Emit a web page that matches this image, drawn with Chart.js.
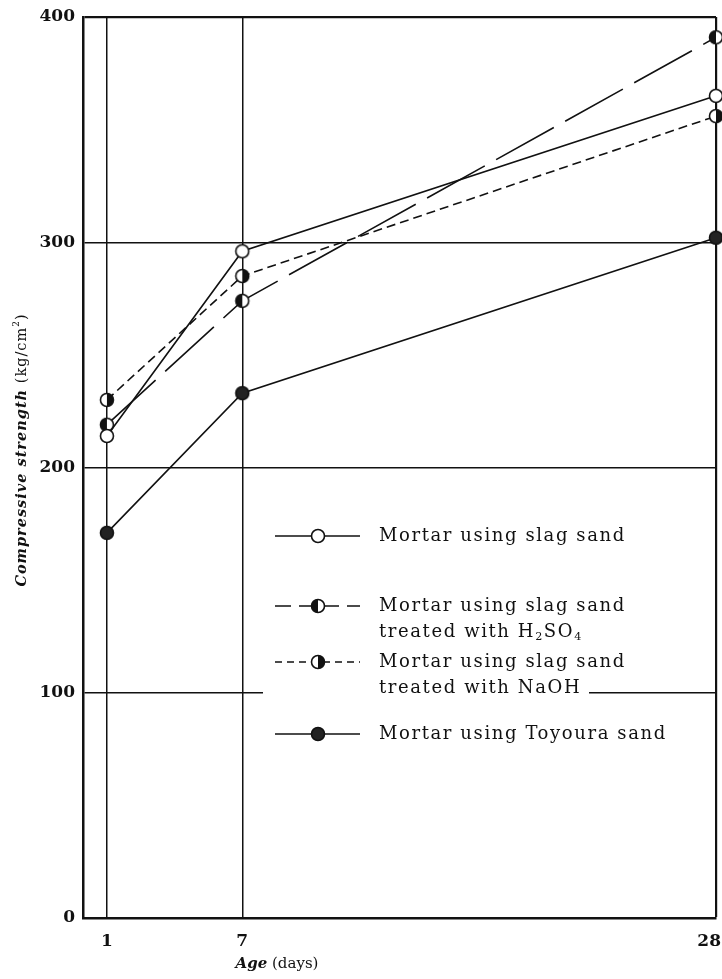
<!DOCTYPE html>
<html>
<head>
<meta charset="utf-8">
<script src="https://cdn.jsdelivr.net/npm/chart.js@4.4.0/dist/chart.umd.min.js"></script>
<style>
  html, body { margin: 0; padding: 0; background: #fff; overflow: hidden; }
  #wrap { width: 722px; height: 979px; }
</style>
</head>
<body>
<div id="wrap"><canvas id="strengthChart"></canvas></div>
<script>
// ages in days and compressive strength (kg/cm2)
const ages = [1, 7, 28];
const slagSand = [214, 296, 365];
const slagH2SO4 = [219, 274, 391];
const slagNaOH = [230, 285, 356];
const toyouraSand = [171, 233, 302];
const yTicks = [0, 100, 200, 300, 400];

const INK = '#111';
const SERIF = '"DejaVu Serif", serif';

// small canvases used as point markers
function marker(kind) {
  const c = document.createElement('canvas');
  c.width = 18; c.height = 18;
  const g = c.getContext('2d');
  g.beginPath(); g.arc(9, 9, 6.5, 0, Math.PI * 2);
  g.fillStyle = kind === 'full' ? '#222' : '#fff';
  g.fill();
  if (kind === 'left' || kind === 'right') {
    const a = kind === 'left' ? Math.PI / 2 : -Math.PI / 2;
    g.beginPath(); g.moveTo(9, 9); g.arc(9, 9, 6.5, a, a + Math.PI); g.closePath();
    g.fillStyle = INK; g.fill();
  }
  g.beginPath(); g.arc(9, 9, 6.5, 0, Math.PI * 2);
  g.lineWidth = 1.6; g.strokeStyle = INK; g.stroke();
  return c;
}

const pts = vals => ages.map((x, i) => ({ x, y: vals[i] }));

const series = [
  { data: slagSand, dash: [], legendDash: [], m: marker('open'),
    text: [[{ t: 'Mortar using slag sand' }]] },
  { data: slagH2SO4, dash: [66, 13], legendDash: [16, 8], m: marker('left'),
    text: [[{ t: 'Mortar using slag sand' }],
           [{ t: 'treated with H' }, { t: '2', sub: true }, { t: 'SO' }, { t: '4', sub: true }]] },
  { data: slagNaOH, dash: [9, 5], legendDash: [7, 5], m: marker('right'),
    text: [[{ t: 'Mortar using slag sand' }], [{ t: 'treated with NaOH' }]] },
  { data: toyouraSand, dash: [], legendDash: [], m: marker('full'),
    text: [[{ t: 'Mortar using Toyoura sand' }]] }
];

const legendRows = [536, 606, 662, 734];

function drawRuns(g, runs, x, y, size) {
  for (const r of runs) {
    const s = r.sub || r.sup ? size * 0.62 : size;
    g.font = (r.style || '') + ' ' + s + 'px ' + SERIF;
    const dy = r.sub ? size * 0.3 : r.sup ? -size * 0.35 : 0;
    g.fillText(r.t, x, y + dy);
    x += g.measureText(r.t).width;
  }
  return x;
}
function runsWidth(g, runs, size) {
  let w = 0;
  for (const r of runs) {
    const s = r.sub || r.sup ? size * 0.62 : size;
    g.font = (r.style || '') + ' ' + s + 'px ' + SERIF;
    w += g.measureText(r.t).width;
  }
  return w;
}

const annotate = {
  id: 'annotate',
  afterDraw(chart) {
    const g = chart.ctx;
    const xs = chart.scales.x;
    g.save();
    // legend sits on a white patch that hides part of the 100 grid line
    g.fillStyle = '#fff';
    g.fillRect(263, 500, 326, 255);
    g.fillStyle = INK;
    g.strokeStyle = INK;
    g.textBaseline = 'middle';
    series.forEach((s, i) => {
      const y = legendRows[i];
      g.lineWidth = 1.6;
      g.setLineDash(s.legendDash);
      g.beginPath(); g.moveTo(275, y); g.lineTo(360, y); g.stroke();
      g.setLineDash([]);
      g.drawImage(s.m, 318 - 9, y - 9);
      g.letterSpacing = '1.6px';
      s.text.forEach((line, k) => drawRuns(g, line, 379, y + k * 26, 18));
      g.letterSpacing = '0px';
    });

    // x tick labels, kept inside the canvas at the right edge
    g.textAlign = 'center';
    g.font = 'bold 17px ' + SERIF;
    ages.forEach(v => {
      const w = g.measureText(String(v)).width;
      const px = Math.min(xs.getPixelForValue(v), chart.width - w / 2 - 1);
      g.fillText(String(v), px, 942);
    });
    g.textAlign = 'left';

    // x axis title
    const xt = [{ t: 'Age', style: 'italic bold' }, { t: ' (days)' }];
    const xw = runsWidth(g, xt, 15);
    drawRuns(g, xt, 277 - xw / 2, 964, 15);

    // y axis title
    g.translate(22, 450);
    g.rotate(-Math.PI / 2);
    g.letterSpacing = '1px';
    const yt = [{ t: 'Compressive strength', style: 'italic bold' }, { t: ' (kg/cm' },
                { t: '2', sup: true }, { t: ')' }];
    const yw = runsWidth(g, yt, 14.5);
    drawRuns(g, yt, -yw / 2, 0, 14.5);
    g.restore();
  }
};

new Chart(document.getElementById('strengthChart'), {
  type: 'line',
  data: {
    datasets: series.map(s => ({
      data: pts(s.data),
      borderColor: INK,
      borderWidth: 1.6,
      borderDash: s.dash,
      pointStyle: s.m,
      pointRadius: 7,
      pointHoverRadius: 7,
      tension: 0,
      fill: false,
      clip: false
    }))
  },
  options: {
    responsive: true,
    maintainAspectRatio: false,
    animation: false,
    layout: { autoPadding: false, padding: { top: 17, right: 6, bottom: 0, left: 0 } },
    plugins: { legend: { display: false }, tooltip: { enabled: false } },
    scales: {
      x: {
        type: 'linear',
        min: -0.06,
        max: 28,
        afterBuildTicks: s => { s.ticks = ages.map(v => ({ value: v })); },
        afterFit: s => { s.height = 61; s.paddingLeft = 0; s.paddingRight = 0; },
        grid: {
          color: INK,
          lineWidth: c => (c.tick && c.tick.value === 28 ? 2.2 : 1.5),
          drawTicks: false
        },
        border: { display: true, color: INK, width: 2.5 },
        ticks: { display: false }
      },
      y: {
        min: 0,
        max: 400,
        afterBuildTicks: s => { s.ticks = yTicks.map(v => ({ value: v })); },
        afterFit: s => { s.width = 83; s.paddingTop = 0; s.paddingBottom = 0; },
        grid: {
          color: INK,
          lineWidth: c => (c.tick && c.tick.value === 400 ? 2.2 : 1.5),
          drawTicks: false
        },
        border: { display: true, color: INK, width: 2.5 },
        ticks: { color: INK, padding: 8, font: { family: SERIF, size: 17, weight: 'bold' } }
      }
    }
  },
  plugins: [annotate]
});
</script>
</body>
</html>
